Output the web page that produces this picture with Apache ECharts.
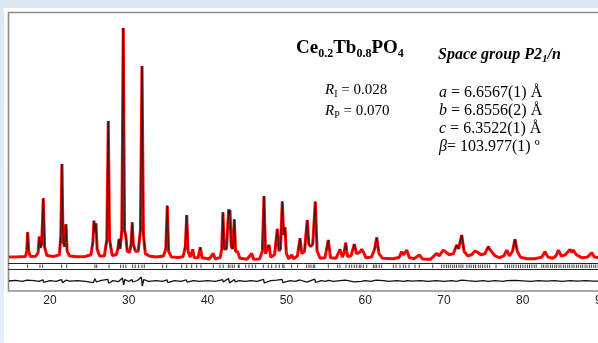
<!DOCTYPE html>
<html><head><meta charset="utf-8">
<script src="https://cdn.jsdelivr.net/npm/echarts@6/dist/echarts.min.js"></script>
<style>
html,body{margin:0;padding:0;width:598px;height:343px;overflow:hidden;background:linear-gradient(180deg,#dde8f5 0%,#e6eef8 100%);}
#chart{position:absolute;left:4px;top:8px;width:594px;height:335px;background:#fff;}
</style></head><body><div id="chart"></div>
<script>
// x-axis tick labels (2-theta, degrees)
const xTickLabels = [20, 30, 40, 50, 60, 70, 80, 90];

// Observed powder pattern: [2theta, intensity (% of strongest peak)]
const observed = [
[14.8,2.6],[16.0,2.7],[16.9,2.8],[17.05,5],[17.17,13.1],[17.3,5],[17.5,2.8],
[18.2,2.9],[18.5,4.5],[18.64,11.2],[18.78,6.5],[18.95,8],[19.15,27.5],[19.32,7],[19.6,3.2],
[20.5,2.8],[21.2,3.5],[21.38,12],[21.52,42.1],[21.66,9],[21.85,7],[22.03,16.5],[22.18,5],[22.5,3],
[23.5,2.7],[24.5,2.8],[25.2,3.5],[25.45,9],[25.58,18],[25.7,13],[25.84,16.9],[25.98,6],[26.3,3],
[26.9,3],[27.22,10],[27.40,60.4],[27.56,10],[27.9,3.2],[28.4,3.5],[28.62,6],[28.76,10.2],[28.9,6],
[29.12,14],[29.30,100],[29.46,14],[29.64,11],[29.8,5],[30.1,4.5],[30.3,8],[30.44,17.3],[30.57,8],
[30.70,8],[30.85,5],[31.2,5],[31.48,14],[31.68,83.8],[31.86,12],[32.1,4],[32.6,3],
[33.5,2.6],[34.4,3],[34.7,6],[34.89,24.4],[35.05,5],[35.4,2.6],
[36.3,2.3],[36.9,2.8],[37.18,7],[37.35,20.4],[37.52,5],[37.8,2.5],[38.11,5.8],[38.3,2.3],[38.8,2.2],[39.07,6.7],[39.3,2.2],
[40.2,1.7],[40.72,4.1],[40.95,1.8],[41.6,2.3],[41.8,6],[41.95,21.6],[42.1,6],[42.4,6],[42.68,22.8],[42.76,20.5],[42.84,22.5],
[43.0,7],[43.2,6],[43.39,18.6],[43.55,5],[43.82,4.8],[44.1,2.0],
[45.0,1.6],[45.6,4.1],[45.85,1.6],[46.6,1.7],[46.95,5],[47.16,28.5],[47.35,4],[47.55,3.5],[47.79,7.7],[48.0,2.5],
[48.5,3.5],[48.85,14.5],[49.05,5],[49.25,6],[49.48,26.2],[49.65,12],[49.82,15.2],[50.0,4],[50.3,1.8],[50.67,3.4],[50.9,1.8],
[51.4,3],[51.73,10.5],[51.95,4],[52.3,5],[52.65,18.3],[52.85,8],[53.08,7],[53.35,8],[53.67,26.1],[53.9,5],[54.3,2],
[54.9,2.2],[55.32,9.8],[55.6,2.2],[56.3,2],[56.8,5.8],[57.1,2.5],[57.3,4],[57.53,8.6],[57.75,2.8],[58.2,3],[58.62,8],[58.9,4],
[59.3,4.5],[59.56,5.8],[59.8,4.5],[60.1,2.2],[60.8,2.5],[61.2,6],[61.46,10.9],[61.75,4],[62.2,2],
[63.5,1.8],[64.3,2.3],[64.63,4.8],[64.85,3.5],[65.27,5.5],[65.6,2.3],[66.2,1.8],[66.87,3.4],[67.3,1.7],[68.3,1.6],
[69.07,4.1],[69.4,3],[69.91,5.5],[70.3,4.5],[70.7,3.5],[71.2,4],[71.61,7.7],[71.85,6],[72.25,11.9],[72.55,5],[73.0,3],
[73.5,3.5],[73.93,5.1],[74.3,4.5],[74.7,3.5],[75.2,4],[75.62,7],[75.85,5.5],[76.1,6],[76.5,3],[77.0,2.3],[77.6,3],
[77.96,5.5],[78.3,3],[78.7,5],[79.01,10.1],[79.3,5],[79.7,2.5],
[80.5,1.8],[81.5,1.8],[82.4,2.5],[82.82,4.8],[83.2,2.5],[83.8,2],[84.2,3],[84.51,5.5],[84.9,3],[85.4,3.5],
[85.99,5.8],[86.2,4.5],[86.4,5.5],[86.8,3.5],[87.5,2.2],[88.2,2.5],[88.74,4.4],[89.1,2.5],[90,2.2]
];

// Calculated (Rietveld) profile, visually identical to the observed one
const calculated = observed;

// Bragg reflection positions (2theta)
const reflections = [
17.17,18.73,19.07,21.48,22.12,25.71,25.93,27.49,28.97,29.30,29.64,30.49,30.82,31.26,31.68,31.97,
34.30,34.81,36.71,37.35,37.98,38.62,39.16,40.72,41.57,41.99,42.63,42.84,43.13,43.39,43.9,44.0,
44.84,45.25,45.67,46.10,47.07,47.70,48.13,48.68,49.10,49.53,49.70,50.67,51.43,52.58,52.87,53.12,53.41,53.6,
55.32,56.51,56.80,57.56,57.98,58.29,58.62,58.92,59.25,59.45,59.76,60.19,61.03,61.24,61.46,61.79,62.09,
63.57,63.91,64.42,64.84,65.14,65.56,66.32,66.87,68.57,
69.7,70.0,70.3,70.55,70.8,71.1,71.35,71.6,71.9,72.15,72.4,
72.9,73.2,73.45,73.75,74.0,74.35,74.6,74.9,75.2,75.5,75.8,76.6,
77.75,78.05,78.3,78.6,78.85,79.15,79.45,79.7,80.0,80.3,80.6,80.85,81.15,81.45,81.7,
82.4,82.65,82.95,83.2,83.5,83.75,84.05,84.3,84.6,84.85,85.15,85.4,85.7,85.95,86.25,86.5,86.8,
87.05,87.35,87.6,87.9,88.15,88.45,88.7,89.0,89.25,89.55
];

// Difference curve (observed - calculated)
const difference = [
[14.8,0],[15.6,0.6],[16.5,-0.3],[17.1,0.9],[17.25,-0.9],[18,0.4],[18.6,-0.4],[19.1,1.2],[19.2,-1.3],[20,0.3],[20.8,-0.4],
[21.45,1.4],[21.6,-1.6],[22.05,0.8],[22.5,-0.2],[23.5,0.4],[24.5,-0.4],[25.5,-1.6],[25.7,2.2],[25.9,-1],[26.5,0.6],
[27.35,1.6],[27.45,-2.2],[28,0.4],[28.7,-0.6],[29.2,3],[29.35,-4],[29.5,1.5],[30.0,-0.5],[30.4,1.5],[30.5,-1],[31.1,0.5],
[31.6,4],[31.72,-5],[31.9,1.5],[32.5,-0.3],[33.5,0.4],[34.3,-0.3],[34.85,1.2],[34.95,-1.6],[35.8,0.4],[36.6,-0.3],
[37.3,1.1],[37.4,-1.1],[38.2,0.4],[39,-0.3],[40,0.3],[41,-0.3],[41.9,1.3],[42.0,-1],[42.65,2.5],[42.8,-2],[43.4,1.5],
[43.5,-0.8],[44,0.3],[44.8,-0.3],[45.5,0.3],[46.3,-0.3],[47.1,1.6],[47.2,-2],[48,0.4],[48.8,0.9],[48.9,-0.6],
[49.45,1.6],[49.55,-1.6],[50.5,0.3],[51.1,-0.3],[51.7,1],[51.8,-0.5],[52.6,-1.2],[52.7,0.8],[53.6,1.8],[53.7,-1.5],
[54.4,0.3],[55,-0.3],[55.3,0.6],[56,-0.3],[56.8,0.4],[57.5,0.8],[57.6,-0.5],[58.6,-0.8],[58.7,0.5],[59.5,-0.3],
[60,0.3],[60.7,-0.3],[61.4,0.8],[61.5,-0.6],[62.3,0.3],[63,-0.3],[64,0.3],[65,-0.4],[65.3,0.4],[66,-0.2],[67,0.3],
[68,-0.3],[69,0.3],[70,-0.3],[71,0.3],[71.6,-0.4],[72.2,0.8],[72.3,-0.6],[73,0.3],[74,-0.3],[75,0.3],[75.6,-0.4],
[76.5,0.3],[77.5,-0.3],[78,0.3],[79,0.6],[79.1,-0.6],[80,0.2],[81,-0.3],[82,0.3],[83,-0.2],[84,0.3],[85,-0.3],
[86,0.3],[87,-0.2],[88,0.3],[89,-0.2],[90,0]
];

const X_MIN = 14.75, X_MAX = 90;
const GL = 4.6, GW = 593;
const P_TOP = 5, P_H = 250, P_MAX = 106.4, CALC_SHOW = 5.5;
const serif = 'Liberation Serif';

// colour of the calculated line: dark above the background band, hidden inside it
const calcStop = 1 - CALC_SHOW / P_MAX;
const calcColor = new echarts.graphic.LinearGradient(0, P_TOP, 0, P_TOP + P_H, [
  { offset: 0, color: '#1a1a1a' }, { offset: calcStop, color: '#1a1a1a' },
  { offset: calcStop + 0.001, color: 'rgba(0,0,0,0)' }, { offset: 1, color: 'rgba(0,0,0,0)' }
], true);

function xAx(i, extra) {
  return Object.assign({
    gridIndex: i, type: 'value', min: X_MIN, max: X_MAX,
    axisLine: { show: true, onZero: false, lineStyle: { color: '#222', width: 1 } },
    axisTick: { show: false }, axisLabel: { show: false }, splitLine: { show: false }
  }, extra || {});
}

const chart = echarts.init(document.getElementById('chart'), null, { renderer: 'canvas' });
chart.setOption({
  animation: false,
  backgroundColor: '#fff',
  grid: [
    { left: GL, width: GW, top: P_TOP, height: P_H, outerBoundsMode: 'none', containLabel: false },
    { left: GL, width: GW, top: 255, height: 6.5, outerBoundsMode: 'none', containLabel: false },
    { left: GL, width: GW, top: 261.5, height: 21.5, outerBoundsMode: 'none', containLabel: false }
  ],
  xAxis: [
    xAx(0),
    xAx(1),
    xAx(2, {
      axisLine: { show: false, onZero: false },
      axisLabel: { show: true, customValues: xTickLabels, color: '#222', fontSize: 12,
                   fontFamily: 'Liberation Sans', margin: 4, showMaxLabel: true, showMinLabel: true,
                   hideOverlap: false }
    })
  ],
  yAxis: [
    { gridIndex: 0, type: 'value', min: 0, max: P_MAX, show: false },
    { gridIndex: 1, type: 'value', min: 0, max: 1, show: false },
    { gridIndex: 2, type: 'value', min: -10, max: 11.5, show: false }
  ],
  series: [
    { type: 'line', xAxisIndex: 0, yAxisIndex: 0, data: observed, symbol: 'none', silent: true,
      lineStyle: { color: '#ff0000', width: 3 } },
    { type: 'line', xAxisIndex: 0, yAxisIndex: 0, data: calculated, symbol: 'none', silent: true,
      lineStyle: { width: 0.9, color: calcColor } },
    { type: 'scatter', xAxisIndex: 1, yAxisIndex: 1, data: reflections.map(v => [v, 0.5]),
      symbol: 'rect', symbolSize: [1, 3.5], silent: true, itemStyle: { color: '#111' } },
    { type: 'line', xAxisIndex: 2, yAxisIndex: 2, data: difference, symbol: 'none', silent: true,
      lineStyle: { color: '#111', width: 1.3 } }
  ],
  graphic: { elements: [
    { type: 'rect', shape: { x: 4.5, y: 4.5, width: 640, height: 278.5 }, silent: true,
      style: { fill: 'none', stroke: '#8c8c8c', lineWidth: 1.6 } },
    { type: 'text', x: 292, y: 40, silent: true, style: {
        text: '{m|Ce}{s|0.2}{m|Tb}{s|0.8}{m|PO}{s|4}', verticalAlign: 'middle', align: 'left',
        rich: {
          m: { fontFamily: serif, fontWeight: 'bold', fontSize: 19, lineHeight: 24, fill: '#000' },
          s: { fontFamily: serif, fontWeight: 'bold', fontSize: 12, lineHeight: 12, padding: [12, 0, 0, 0], fill: '#000' }
        } } },
    { type: 'text', x: 434, y: 47, silent: true, style: {
        text: '{m|Space group P2}{s|1}{m|/n}', verticalAlign: 'middle', align: 'left',
        rich: {
          m: { fontFamily: serif, fontWeight: 'bold', fontStyle: 'italic', fontSize: 16, lineHeight: 20, fill: '#000' },
          s: { fontFamily: serif, fontWeight: 'bold', fontStyle: 'italic', fontSize: 11, lineHeight: 11, padding: [9, 0, 0, 0], fill: '#000' }
        } } },
    { type: 'text', x: 321, y: 82, silent: true, style: {
        text: '{i|R}{s|I}{m| = 0.028}', verticalAlign: 'middle', align: 'left',
        rich: {
          i: { fontFamily: serif, fontStyle: 'italic', fontSize: 15, lineHeight: 20, fill: '#000' },
          m: { fontFamily: serif, fontSize: 15, lineHeight: 20, fill: '#000' },
          s: { fontFamily: serif, fontSize: 10, lineHeight: 11, padding: [9, 0, 0, 0], fill: '#000' }
        } } },
    { type: 'text', x: 321, y: 103, silent: true, style: {
        text: '{i|R}{s|P}{m| = 0.070}', verticalAlign: 'middle', align: 'left',
        rich: {
          i: { fontFamily: serif, fontStyle: 'italic', fontSize: 15, lineHeight: 20, fill: '#000' },
          m: { fontFamily: serif, fontSize: 15, lineHeight: 20, fill: '#000' },
          s: { fontFamily: serif, fontSize: 10, lineHeight: 11, padding: [9, 0, 0, 0], fill: '#000' }
        } } },
    { type: 'text', x: 435, y: 85, silent: true, style: {
        text: '{i|a}{m| = 6.6567(1) Å}', verticalAlign: 'middle', align: 'left',
        rich: { i: { fontFamily: serif, fontStyle: 'italic', fontSize: 16, fill: '#000' },
                m: { fontFamily: serif, fontSize: 16, fill: '#000' } } } },
    { type: 'text', x: 435, y: 103, silent: true, style: {
        text: '{i|b}{m| = 6.8556(2) Å}', verticalAlign: 'middle', align: 'left',
        rich: { i: { fontFamily: serif, fontStyle: 'italic', fontSize: 16, fill: '#000' },
                m: { fontFamily: serif, fontSize: 16, fill: '#000' } } } },
    { type: 'text', x: 435, y: 121, silent: true, style: {
        text: '{i|c}{m| = 6.3522(1) Å}', verticalAlign: 'middle', align: 'left',
        rich: { i: { fontFamily: serif, fontStyle: 'italic', fontSize: 16, fill: '#000' },
                m: { fontFamily: serif, fontSize: 16, fill: '#000' } } } },
    { type: 'text', x: 435, y: 139, silent: true, style: {
        text: '{i|β}{m|= 103.977(1) º}', verticalAlign: 'middle', align: 'left',
        rich: { i: { fontFamily: serif, fontStyle: 'italic', fontSize: 16, fill: '#000' },
                m: { fontFamily: serif, fontSize: 16, fill: '#000' } } } }
  ] }
});
</script></body></html>
